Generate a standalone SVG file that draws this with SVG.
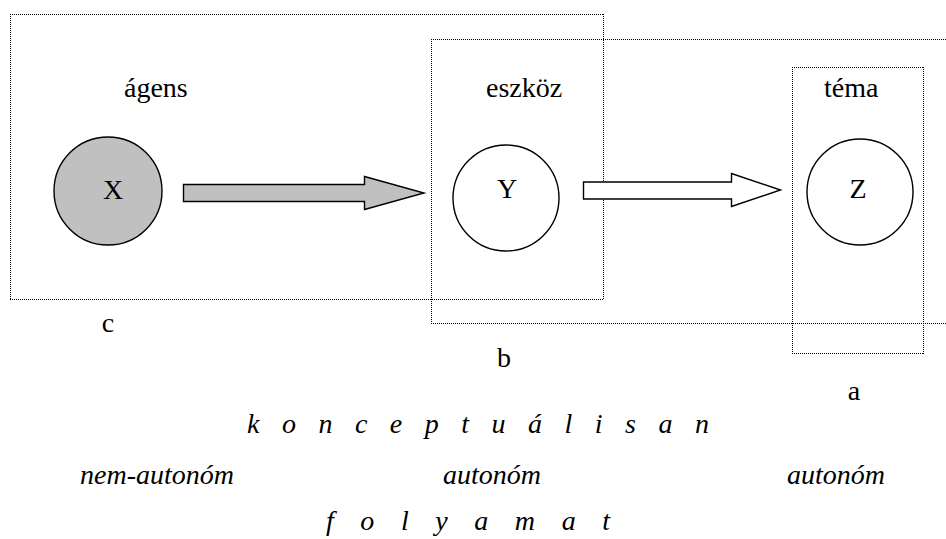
<svg xmlns="http://www.w3.org/2000/svg" width="946" height="539" viewBox="0 0 946 539">
<defs>
<circle id="ring" r="53" stroke="#000" stroke-width="1.4"/>
</defs>
<rect width="946" height="539" fill="#fff"/>
<g id="frames" fill="none" stroke="#000" stroke-width="1" stroke-dasharray="1 1">
<path id="frame-c" d="M10,14.5H604M10,299.5H604M10.5,14V300M603.5,14V300"/>
<path id="frame-b" d="M431,39.5H946M431,323.5H946M431.5,39V324"/>
<path id="frame-a" d="M792,67.5H924M792,353.5H924M792.5,67V354M923.5,67V354"/>
</g>
<g id="connectors" stroke="#000" stroke-width="1.4">
<polygon id="arrow-xy" fill="#c0c0c0" points="183.5,184.5 364.5,184.5 364.5,176.5 424,193 364.5,209.5 364.5,201.5 183.5,201.5"/>
<polygon id="arrow-yz" fill="#fff" points="583.5,182 731.5,182 731.5,173.5 780.5,190 731.5,206.5 731.5,199 583.5,199"/>
</g>
<g font-family="Liberation Serif" font-size="28">
<g id="node-x">
<circle cx="108" cy="191" r="54" stroke="#000" stroke-width="1.4" fill="#c0c0c0"/>
<text x="113" y="199" text-anchor="middle">X</text>
</g>
<g id="node-y">
<circle cx="506" cy="198" r="53" stroke="#000" stroke-width="1.4" fill="#fff"/>
<text x="507" y="198" text-anchor="middle">Y</text>
</g>
<g id="node-z">
<circle cx="860" cy="192" r="53" stroke="#000" stroke-width="1.4" fill="#fff"/>
<text x="858" y="198" text-anchor="middle">Z</text>
</g>
<g id="labels">
<text x="124" y="97">ágens</text>
<text x="486" y="97">eszköz</text>
<text x="824" y="97">téma</text>
<text x="108" y="332" text-anchor="middle">c</text>
<text x="504" y="367" text-anchor="middle">b</text>
<text x="854" y="400" text-anchor="middle">a</text>
<text x="247" y="433" font-style="italic" textLength="462" lengthAdjust="spacing">k o n c e p t u á l i s a n</text>
<text x="157" y="484" font-style="italic" text-anchor="middle">nem-autonóm</text>
<text x="492" y="484" font-style="italic" text-anchor="middle">autonóm</text>
<text x="836" y="484" font-style="italic" text-anchor="middle">autonóm</text>
<text x="326" y="530" font-style="italic" textLength="284" lengthAdjust="spacing">f o l y a m a t</text>
</g>
</g>
</svg>
